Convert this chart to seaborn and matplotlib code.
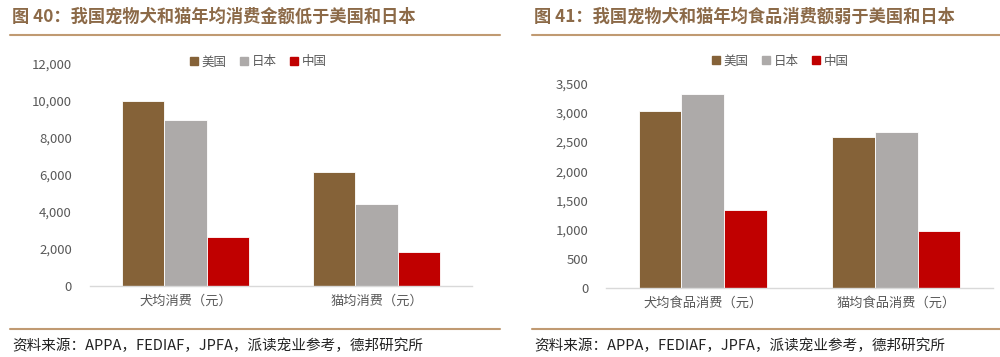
import numpy as np
import pandas as pd
import matplotlib
matplotlib.use("Agg")
import matplotlib.pyplot as plt
import seaborn as sns
from matplotlib.lines import Line2D
from matplotlib.ticker import FuncFormatter

# data
countries = ["美国", "日本", "中国"]
left_cats = ["犬均消费（元）", "猫均消费（元）"]
left_us = [10000, 6150]
left_jp = [8970, 4450]
left_cn = [2630, 1840]
right_cats = ["犬均食品消费（元）", "猫均食品消费（元）"]
right_us = [3040, 2590]
right_jp = [3330, 2680]
right_cn = [1330, 980]

palette = {"美国": "#856238", "日本": "#ADAAA9", "中国": "#C00000"}

sns.set_theme(style="white")
plt.rcParams["font.family"] = ["Noto Sans CJK SC", "DejaVu Sans"]

title_color = "#8C6A48"
rule_color = "#C09A72"
tick_color = "#595959"


def to_frame(cats, us, jp, cn):
    rows = []
    for name, vals in zip(countries, [us, jp, cn]):
        for c, v in zip(cats, vals):
            rows.append({"cat": c, "country": name, "value": v})
    return pd.DataFrame(rows)


W, H = 1000, 357
fig = plt.figure(figsize=(10, 3.57), dpi=100)


def px_axes(x0, x1, ytop, ybot):
    return fig.add_axes([x0 / W, 1 - ybot / H, (x1 - x0) / W, (ybot - ytop) / H])


def draw_panel(ax, df, cats, ymax, step, pad):
    sns.barplot(data=df, x="cat", y="value", hue="country", order=cats,
                hue_order=countries, palette=palette, width=0.66,
                edgecolor="white", linewidth=0.6, saturation=1, ax=ax)
    ax.set_xlim(-0.5, 1.5)
    ax.set_ylim(0, ymax)
    ax.set_yticks(np.arange(0, ymax + 1, step))
    ax.yaxis.set_major_formatter(FuncFormatter(lambda v, p: f"{int(v):,}"))
    ax.set_xlabel("")
    ax.set_ylabel("")
    for s in ["top", "right", "left"]:
        ax.spines[s].set_visible(False)
    ax.spines["bottom"].set_color("#D9D9D9")
    ax.spines["bottom"].set_linewidth(1)
    ax.tick_params(axis="y", length=0, labelsize=9.5, labelcolor=tick_color, pad=pad)
    ax.tick_params(axis="x", length=0, labelsize=9.5, labelcolor=tick_color, pad=6)
    ax.legend_.remove()


axL = px_axes(90, 472, 64, 286)
draw_panel(axL, to_frame(left_cats, left_us, left_jp, left_cn), left_cats, 12000, 2000, 13)
axR = px_axes(606, 993, 83.7, 288)
draw_panel(axR, to_frame(right_cats, right_us, right_jp, right_cn), right_cats, 3500, 500, 12.5)

# legends
handles = [Line2D([0], [0], marker="s", linestyle="", markersize=6,
                  markerfacecolor=palette[c], markeredgecolor=palette[c]) for c in countries]
for xc, yc in [(258, 62), (780, 61)]:
    fig.legend(handles, countries, loc="center", bbox_to_anchor=(xc / W, 1 - yc / H),
               ncol=3, frameon=False, fontsize=9, handlelength=0.8, handletextpad=0.2,
               columnspacing=1.0, labelcolor=tick_color)

# titles, rules, sources
titles = [(12, "图 40：我国宠物犬和猫年均消费金额低于美国和日本"),
          (534, "图 41：我国宠物犬和猫年均食品消费额弱于美国和日本")]
for x, t in titles:
    fig.text(x / W, 1 - 17 / H, t, fontsize=12.4, fontweight="bold",
             color=title_color, va="center", ha="left")
for x0, x1 in [(10, 500), (532, 1000)]:
    for y in [35, 329]:
        fig.add_artist(Line2D([x0 / W, x1 / W], [1 - y / H, 1 - y / H],
                              color=rule_color, linewidth=1.5))
for x in [12, 534]:
    fig.text(x / W, 1 - 346 / H, "资料来源：APPA，FEDIAF，JPFA，派读宠业参考，德邦研究所",
             fontsize=10.5, color="#222222", va="center", ha="left")

fig.savefig("out.png", dpi=100)
